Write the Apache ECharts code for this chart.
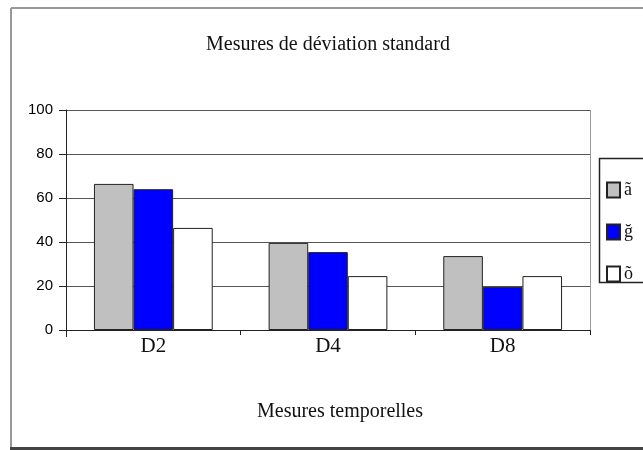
<!DOCTYPE html>
<html>
<head>
<meta charset="utf-8">
<script src="https://cdn.jsdelivr.net/npm/echarts@6/dist/echarts.min.js"></script>
<style>
  html, body { margin: 0; padding: 0; background: #fff; }
  #chart { width: 643px; height: 450px; }
</style>
</head>
<body>
<div id="chart"></div>
<script>
// Standard deviation per time point, three series
const categories = ['D2', 'D4', 'D8'];
const seriesNames = ['ã', 'ğ', 'õ'];
const seriesGray = [66.4, 39.6, 33.6];
const seriesBlue = [64.0, 35.4, 19.6];
const seriesWhite = [46.4, 24.5, 24.5];
const yTicks = { min: 0, max: 100, step: 20 };

const serif = '"Liberation Serif", "DejaVu Serif", serif';
const sans = '"Liberation Sans", Arial, sans-serif';

const colors = ['#c0c0c0', '#0000ff', '#ffffff'];
const values = [seriesGray, seriesBlue, seriesWhite];

const chart = echarts.init(document.getElementById('chart'), null, { renderer: 'canvas' });

chart.setOption({
  animation: false,
  backgroundColor: '#fff',
  title: {
    text: 'Mesures de déviation standard',
    left: 323, top: 30, textAlign: 'center',
    textStyle: { fontFamily: serif, fontSize: 20, fontWeight: 'normal', color: '#111' }
  },
  grid: { left: 66, right: 53, top: 110, bottom: 120, containLabel: false },
  legend: {
    orient: 'vertical',
    left: 601, top: 176,
    itemWidth: 13, itemHeight: 15, itemGap: 24,
    icon: 'rect',
    textStyle: { fontFamily: serif, fontSize: 18, color: '#111', padding: [0, 0, 0, -1] },
    data: seriesNames
  },
  graphic: [
    // outer frame of the chart
    { type: 'line', shape: { x1: 11, y1: 8, x2: 643, y2: 8 }, style: { stroke: '#999', lineWidth: 2 } },
    { type: 'line', shape: { x1: 11, y1: 8, x2: 11, y2: 448 }, style: { stroke: '#999', lineWidth: 2 } },
    { type: 'line', shape: { x1: 10, y1: 448.5, x2: 643, y2: 448.5 }, style: { stroke: '#444', lineWidth: 3 } },
    // right edge of the plot area
    { type: 'line', shape: { x1: 590.5, y1: 110, x2: 590.5, y2: 330 }, style: { stroke: '#999', lineWidth: 1 } },
    // y axis runs slightly past zero
    { type: 'line', shape: { x1: 66.5, y1: 330, x2: 66.5, y2: 337 }, style: { stroke: '#222', lineWidth: 1 } },
    // legend box
    { type: 'rect', z: -1, shape: { x: 599.5, y: 158.5, width: 60, height: 124 },
      style: { fill: '#fff', stroke: '#222', lineWidth: 1.5 } }
  ],
  xAxis: {
    type: 'category',
    data: categories,
    axisLine: { lineStyle: { color: '#222', width: 1 } },
    axisTick: { show: true, length: 5, lineStyle: { color: '#222' } },
    axisLabel: { fontFamily: serif, fontSize: 21, color: '#111', margin: 6 },
    name: 'Mesures temporelles',
    nameLocation: 'middle',
    nameGap: 72,
    nameTextStyle: { fontFamily: serif, fontSize: 20, color: '#111', padding: [0, 0, 0, 24] }
  },
  yAxis: {
    type: 'value',
    min: yTicks.min, max: yTicks.max, interval: yTicks.step,
    axisLine: { show: true, lineStyle: { color: '#222', width: 1 } },
    axisTick: { show: true, length: 7, lineStyle: { color: '#222' } },
    axisLabel: { fontFamily: sans, fontSize: 15, fontWeight: 'normal', color: '#000', margin: 13 },
    splitLine: { show: true, lineStyle: { color: '#555', width: 1 } }
  },
  series: seriesNames.map((name, i) => ({
    name,
    type: 'bar',
    data: values[i],
    barGap: '0%',
    barCategoryGap: '32%',
    itemStyle: { color: colors[i], borderColor: '#222', borderWidth: 1 }
  }))
});
</script>
</body>
</html>
